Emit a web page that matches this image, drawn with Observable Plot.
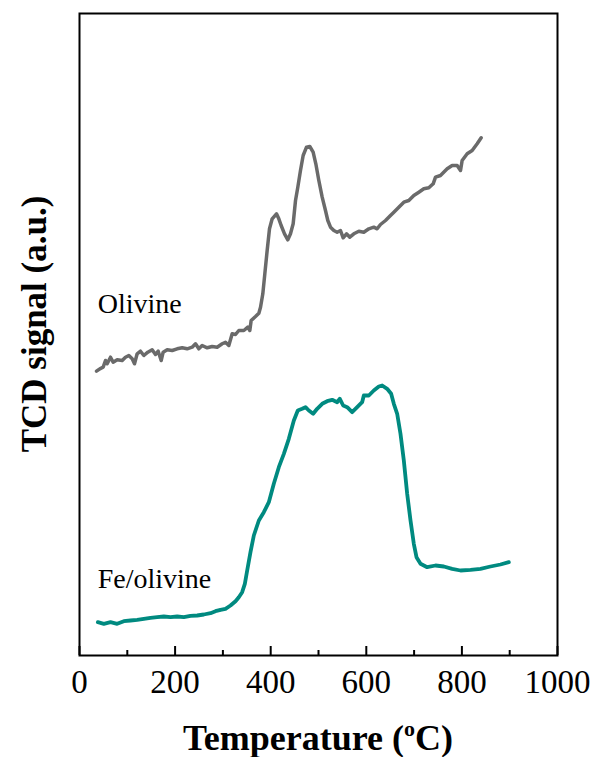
<!DOCTYPE html>
<html>
<head>
<meta charset="utf-8">
<script src="https://cdn.jsdelivr.net/npm/d3@7"></script>
<script src="https://cdn.jsdelivr.net/npm/@observablehq/plot@0.6"></script>
<style>
  html, body { margin: 0; padding: 0; background: #ffffff; }
  #chart { width: 592px; height: 757px; }
</style>
</head>
<body>
<div id="chart"></div>
<script>
// Temperature (°C) and TCD signal (a.u.)
const olivineT = [35.6,42.5,49.5,54.4,57.9,64.9,70.4,78.8,89.3,96.2,103.2,110.2,115.1,120.6,127.6,134.6,142.9,152.0,159.0,164.6,170.9,175.0,183.4,193.9,204.3,214.8,225.2,235.7,242.7,249.6,256.6,267.1,277.5,288.0,298.5,305.4,312.4,319.4,326.4,333.3,343.8,352.1,356.3,359.1,368.2,375.2,378.7,383.5,387.7,392.6,397.5,403.1,412.1,417.0,421.9,428.9,435.8,441.4,447.0,451.9,456.7,462.3,467.9,474.9,481.8,488.8,494.4,500.7,507.7,514.6,519.5,525.1,532.1,539.0,546.0,551.6,558.6,565.5,573.9,584.4,594.8,605.3,615.7,622.7,629.7,640.2,650.6,657.6,668.0,678.5,688.9,699.4,709.9,720.3,730.8,739.9,744.8,755.2,769.2,779.6,790.1,797.1,800.5,811.0,821.5,831.9,840.3];
const olivineSignal = [284.3,286.7,288.3,295,291.7,298.3,293.3,295.7,295,298.3,300,296.7,291.7,301.7,304.3,300,303.3,305.7,301,304.3,295,303.3,305.7,305,306.7,307.7,306.7,308.3,311.7,306.7,310,307.7,309,308.3,311.7,313.3,310,321.7,321,325,325,328.3,325,335,339,342.3,348.3,361.7,381.7,405,426.7,436.7,441.7,436.7,430,421.7,415.7,421.7,431.7,455,468.3,485,500,508.3,509,503.3,491.7,475,458.3,445,435,428.3,425,423.3,425,417.7,421.7,418.3,421.7,424.3,423.3,426.7,428.3,426.7,431,435,440,443.3,448.3,453.3,455,460,463.3,466.7,467.7,471.7,478.3,480,486.7,490,490,485,495,501.7,505,511.7,517.7];

const feT = [38.4,50.9,64.9,78.8,92.7,106.7,120.6,134.6,148.5,162.5,176.4,190.4,204.3,218.3,232.2,246.2,260.1,274.1,284.5,295.0,305.4,315.9,326.4,333.3,340.3,345.9,350.8,357.7,364.7,375.2,385.6,396.1,406.5,417.0,427.5,437.9,448.4,456.7,465.8,472.8,479.8,488.8,497.2,507.7,518.1,528.6,539.0,544.6,551.6,560.0,570.4,580.9,591.3,594.8,605.3,615.7,626.2,633.2,643.6,652.0,657.6,664.6,671.5,678.5,685.5,692.5,699.4,705.0,713.4,727.3,744.8,762.2,779.6,797.1,818.0,838.9,859.8,880.7,898.2];
const feSignal = [33.3,31.7,33.3,31.7,34.3,35,35.7,36.7,37.7,38.3,39,38.3,39,38.3,39.7,40,41,42.3,44.3,45.7,46.7,50,54.3,58.3,63.3,71.7,85,103.3,120,135,143.3,153.3,171.7,188.3,201.7,216.7,235,245,246.7,248.3,245,241.7,246.7,251.7,254.3,255.7,253.3,256.7,250,248.3,243.3,248.3,253.3,260,260,265,269,270,266.7,261.7,251.7,241.7,221.7,195,161.7,135,111.7,98.3,91.7,88.3,90,89,86.7,85,85.7,86.7,89,91,93.3];

const seriesNames = ["Olivine", "Fe/olivine"];
const seriesColors = ["#6a6a6a", "#008a80"];
const labelT = [38, 38];
const labelSignal = [351, 76];

const majorTicks = [0, 200, 400, 600, 800, 1000];
const minorTicks = [100, 300, 500, 700, 900];

const olivine = olivineT.map((t, i) => ({t, v: olivineSignal[i]}));
const feOlivine = feT.map((t, i) => ({t, v: feSignal[i]}));
const labels = seriesNames.map((name, i) => ({name, t: labelT[i], v: labelSignal[i]}));

const W = 592, H = 757, mT = 13, mB = 102;
const frameH = H - mT - mB;          // 642 px, y domain 0..642 → 1 unit per px
const majorLen = 9, minorLen = 5;    // inward tick lengths (px)

const plot = Plot.plot({
  width: W,
  height: H,
  marginLeft: 79,
  marginRight: 35,
  marginTop: mT,
  marginBottom: mB,
  style: {fontFamily: "'Liberation Serif', 'Times New Roman', serif", background: "#ffffff", color: "black", overflow: "visible"},
  x: {domain: [0, 1000]},
  y: {domain: [0, frameH], axis: null},
  marks: [
    Plot.line(olivine, {x: "t", y: "v", stroke: seriesColors[0], strokeWidth: 3.5, strokeLinejoin: "round", strokeLinecap: "round"}),
    Plot.line(feOlivine, {x: "t", y: "v", stroke: seriesColors[1], strokeWidth: 3.8, strokeLinejoin: "round", strokeLinecap: "round"}),
    Plot.text(labels, {x: "t", y: "v", text: "name", textAnchor: "start", lineAnchor: "middle", fontSize: 28, fill: "black"}),
    Plot.ruleX(majorTicks, {x: d => d, y1: 0, y2: majorLen, stroke: "black", strokeWidth: 2}),
    Plot.ruleX(minorTicks, {x: d => d, y1: 0, y2: minorLen, stroke: "black", strokeWidth: 2}),
    Plot.axisX(majorTicks, {tickSize: 0, tickPadding: 14, fontSize: 33, fill: "black", label: null, tickFormat: d3.format("d")}),
    Plot.frame({stroke: "black", strokeWidth: 2})
  ]
});

const svg = d3.select(plot);
const xt = svg.append("text")
  .attr("x", 318).attr("y", 750)
  .attr("text-anchor", "middle")
  .attr("font-family", "'Liberation Serif', 'Times New Roman', serif")
  .attr("font-weight", "bold").attr("font-size", 36).attr("fill", "black");
xt.append("tspan").text("Temperature (");
xt.append("tspan").attr("font-size", 22).attr("dy", -14).text("o");
xt.append("tspan").attr("dy", 14).text("C)");

svg.append("text")
  .attr("transform", "translate(46,324) rotate(-90)")
  .attr("text-anchor", "middle")
  .attr("font-family", "'Liberation Serif', 'Times New Roman', serif")
  .attr("font-weight", "bold").attr("font-size", 35).attr("fill", "black")
  .text("TCD signal (a.u.)");

document.getElementById("chart").appendChild(plot);
</script>
</body>
</html>
